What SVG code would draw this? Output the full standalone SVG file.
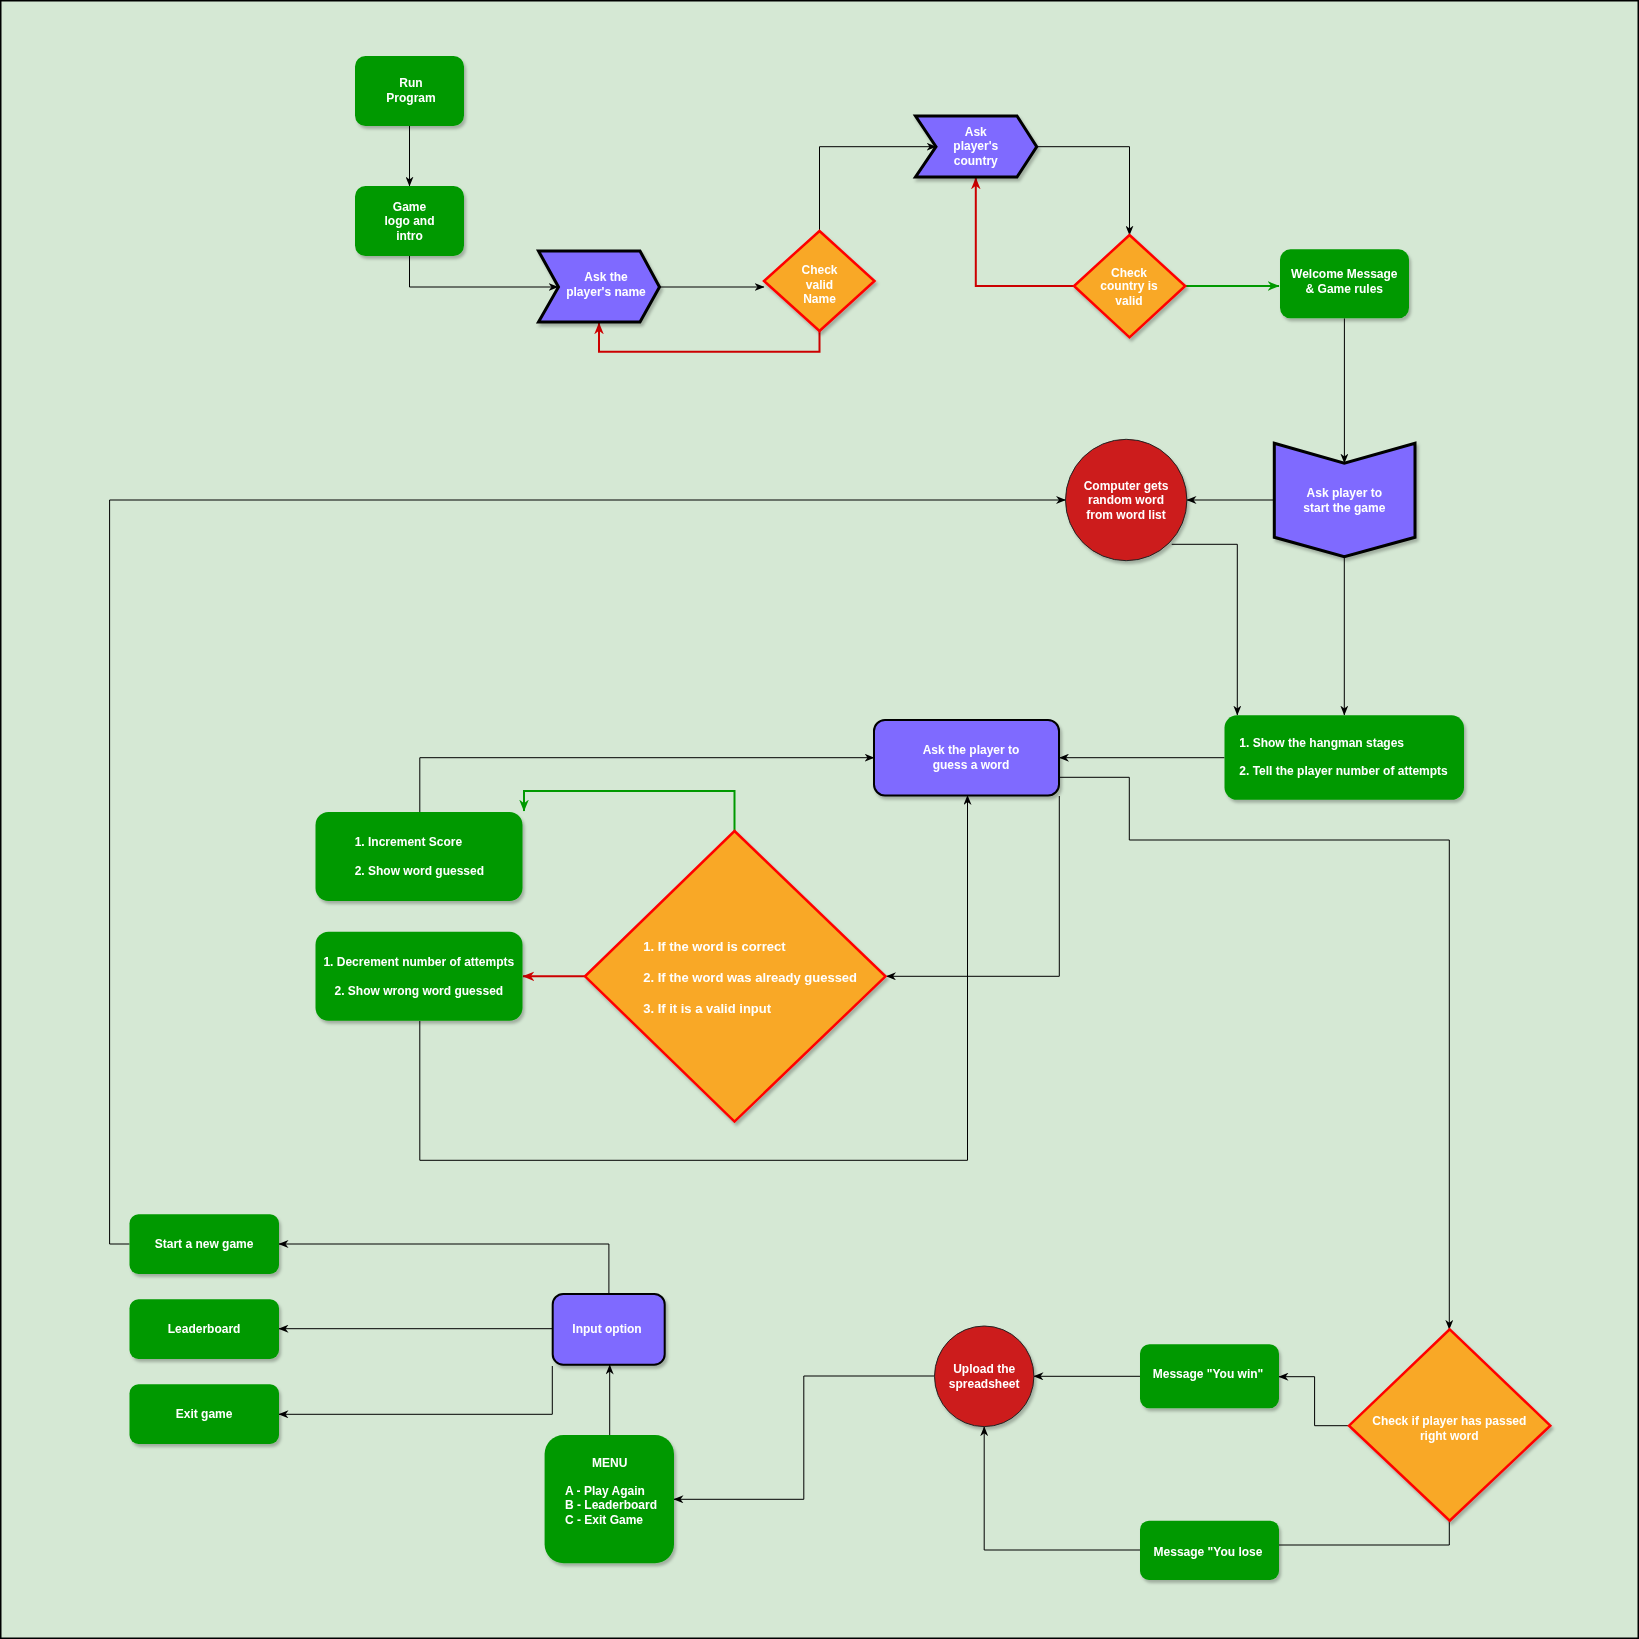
<svg xmlns="http://www.w3.org/2000/svg" width="1639" height="1639" viewBox="0 0 1639 1639">
<defs>
<style>
.bg{fill:#d5e8d4;stroke:#000;stroke-width:1.5}
.g{fill:#009900;stroke:none}
.p{fill:#7f6bff;stroke:#000;stroke-width:3;stroke-linejoin:miter}
.pb{fill:#7f6bff;stroke:#000;stroke-width:2}
.o{fill:#f9a825;stroke:#ff0000;stroke-width:2.5}
.c{fill:#cc1a1a;stroke:#222;stroke-width:1}
.t{font-family:"Liberation Sans",Arial,sans-serif;font-weight:bold;font-size:12px;fill:#fff}
.big{font-size:13px}
.m{text-anchor:middle}
.k{fill:none;stroke:#000;stroke-width:1}
.r{fill:none;stroke:#cc0000;stroke-width:2}
.gr{fill:none;stroke:#009900;stroke-width:2}
</style>
<filter id="sh" x="-10%" y="-10%" width="130%" height="130%">
<feDropShadow dx="2" dy="3" stdDeviation="1.5" flood-color="#000" flood-opacity="0.25"/>
</filter>
<marker id="a" viewBox="0 0 10 8" refX="9.5" refY="4" markerWidth="10" markerHeight="8" markerUnits="userSpaceOnUse" orient="auto">
<path d="M0,0 L10,4 L0,8 L3,4 Z" fill="#000"/>
</marker>
<marker id="ar" viewBox="0 0 10 8" refX="9.5" refY="4" markerWidth="12" markerHeight="10" markerUnits="userSpaceOnUse" orient="auto">
<path d="M0,0 L10,4 L0,8 L3,4 Z" fill="#cc0000"/>
</marker>
<marker id="ag" viewBox="0 0 10 8" refX="9.5" refY="4" markerWidth="12" markerHeight="10" markerUnits="userSpaceOnUse" orient="auto">
<path d="M0,0 L10,4 L0,8 L3,4 Z" fill="#009900"/>
</marker>
</defs>
<rect class="bg" x="0.75" y="0.75" width="1637.5" height="1637.5"/>

<g id="connectors">
<path class="k" d="M409.5,126 V186" marker-end="url(#a)"/>
<path class="k" d="M409.5,256 V287 H558" marker-end="url(#a)"/>
<path class="k" d="M660,287 H764" marker-end="url(#a)"/>
<path class="r" d="M819.5,331 V351.7 H599 V323" marker-end="url(#ar)"/>
<path class="k" d="M819.5,231 V146.7 H936" marker-end="url(#a)"/>
<path class="k" d="M1037,146.7 H1129.5 V235" marker-end="url(#a)"/>
<path class="r" d="M1074,286 H975.8 V178" marker-end="url(#ar)"/>
<path class="gr" d="M1185,286 H1279" marker-end="url(#ag)"/>
<path class="k" d="M1344.4,318.3 V463" marker-end="url(#a)"/>
<path class="k" d="M1274,500 H1187" marker-end="url(#a)"/>
<path class="k" d="M1171.7,544.3 H1237.3 V715" marker-end="url(#a)"/>
<path class="k" d="M1344.3,557 V715" marker-end="url(#a)"/>
<path class="k" d="M1224.5,757.7 H1059.5" marker-end="url(#a)"/>
<path class="k" d="M1059,777.3 H1129.3 V840 H1449.3 V1329.3" marker-end="url(#a)"/>
<path class="k" d="M1059.3,796 V976.3 H886.5" marker-end="url(#a)"/>
<path class="gr" d="M734.5,831 V791 H524 V811" marker-end="url(#ag)"/>
<path class="r" d="M585,976.3 H523" marker-end="url(#ar)"/>
<path class="k" d="M419.8,812 V757.7 H874" marker-end="url(#a)"/>
<path class="k" d="M419.8,1021 V1160.3 H967.5 V795.5" marker-end="url(#a)"/>
<path class="k" d="M1349,1425.7 H1314.6 V1376.7 H1279" marker-end="url(#a)"/>
<path class="k" d="M1449.3,1520.7 V1545 H1279"/>
<path class="k" d="M1140,1376.3 H1034" marker-end="url(#a)"/>
<path class="k" d="M1140,1550 H984.2 V1426.7" marker-end="url(#a)"/>
<path class="k" d="M934.5,1376 H803.8 V1499.3 H674" marker-end="url(#a)"/>
<path class="k" d="M609.7,1435 V1365" marker-end="url(#a)"/>
<path class="k" d="M608.9,1294 V1244 H279" marker-end="url(#a)"/>
<path class="k" d="M552.7,1328.7 H279" marker-end="url(#a)"/>
<path class="k" d="M552.3,1366 V1414.3 H279" marker-end="url(#a)"/>
<path class="k" d="M129.5,1244 H109.6 V500 H1065.5" marker-end="url(#a)"/>
</g>

<g id="run-program" filter="url(#sh)">
<rect class="g" x="355" y="56" width="109" height="70" rx="10.5"/>
<text class="t m" x="411" y="87">Run</text>
<text class="t m" x="411" y="102">Program</text>
</g>
<g id="game-logo" filter="url(#sh)">
<rect class="g" x="355" y="186" width="109" height="70" rx="10.5"/>
<text class="t m" x="409.5" y="211">Game</text>
<text class="t m" x="409.5" y="225.3">logo and</text>
<text class="t m" x="409.5" y="240">intro</text>
</g>
<g id="ask-name" filter="url(#sh)">
<polygon class="p" points="538.5,251 640,251 659.5,287 640,322 538.5,322 558.5,287"/>
<text class="t m" x="606" y="281">Ask the</text>
<text class="t m" x="606" y="296">player's name</text>
</g>
<g id="check-name" filter="url(#sh)">
<polygon class="o" points="819.5,231 874.5,281 819.5,331 764,281"/>
<text class="t m" x="819.5" y="274.3">Check</text>
<text class="t m" x="819.5" y="288.6">valid</text>
<text class="t m" x="819.5" y="303">Name</text>
</g>
<g id="ask-country" filter="url(#sh)">
<polygon class="p" points="915.5,116 1017,116 1036.7,146.7 1017,177 915.5,177 936,146.7"/>
<text class="t m" x="975.8" y="136">Ask</text>
<text class="t m" x="975.8" y="150.3">player's</text>
<text class="t m" x="975.8" y="165">country</text>
</g>
<g id="check-country" filter="url(#sh)">
<polygon class="o" points="1129.5,235 1185.2,286 1129.5,337.3 1074,286"/>
<text class="t m" x="1129" y="276.6">Check</text>
<text class="t m" x="1129" y="290.3">country is</text>
<text class="t m" x="1129" y="305">valid</text>
</g>
<g id="welcome" filter="url(#sh)">
<rect class="g" x="1280" y="249.3" width="129" height="69" rx="10.5"/>
<text class="t m" x="1344.3" y="278.3">Welcome Message</text>
<text class="t m" x="1344.3" y="293.3">&amp; Game rules</text>
</g>
<g id="ask-start" filter="url(#sh)">
<polygon class="p" points="1274.3,443.3 1344.3,463.3 1415,443.3 1415,537.3 1344.3,556.7 1274.3,537.3"/>
<text class="t m" x="1344.3" y="497">Ask player to</text>
<text class="t m" x="1344.3" y="512">start the game</text>
</g>
<g id="random-word" filter="url(#sh)">
<circle class="c" cx="1126.2" cy="500" r="60.7"/>
<text class="t m" x="1126" y="490">Computer gets</text>
<text class="t m" x="1126" y="504.3">random word</text>
<text class="t m" x="1126" y="519">from word list</text>
</g>
<g id="hangman" filter="url(#sh)">
<rect class="g" x="1224.5" y="715.3" width="239.5" height="84.5" rx="12.5"/>
<text class="t" x="1239.3" y="746.6">1. Show the hangman stages</text>
<text class="t" x="1239.3" y="775.3">2. Tell the player number of attempts</text>
</g>
<g id="ask-guess" filter="url(#sh)">
<rect class="pb" x="874" y="720" width="185" height="75.5" rx="11"/>
<text class="t m" x="971" y="754.3">Ask the player to</text>
<text class="t m" x="971" y="768.6">guess a word</text>
</g>
<g id="increment" filter="url(#sh)">
<rect class="g" x="315.5" y="812" width="207" height="89" rx="13"/>
<text class="t" x="354.7" y="846">1. Increment Score</text>
<text class="t" x="354.7" y="875">2. Show word guessed</text>
</g>
<g id="decrement" filter="url(#sh)">
<rect class="g" x="315.5" y="931.7" width="207" height="89" rx="13"/>
<text class="t m" x="418.8" y="966">1. Decrement number of attempts</text>
<text class="t m" x="418.8" y="995">2. Show wrong word guessed</text>
</g>
<g id="check-word" filter="url(#sh)">
<polygon class="o" points="734.5,831 885.5,976.3 734.5,1121.6 585,976.3" stroke-width="2"/>
<text class="t big" x="643.2" y="951.3">1. If the word is correct</text>
<text class="t big" x="643.2" y="982.3">2. If the word was already guessed</text>
<text class="t big" x="643.2" y="1013.3">3. If it is a valid input</text>
</g>
<g id="start-new" filter="url(#sh)">
<rect class="g" x="129.5" y="1214.3" width="149.5" height="59.7" rx="9"/>
<text class="t m" x="204.1" y="1248.3">Start a new game</text>
</g>
<g id="leaderboard" filter="url(#sh)">
<rect class="g" x="129.5" y="1299.3" width="149.5" height="59.7" rx="9"/>
<text class="t m" x="204.1" y="1333">Leaderboard</text>
</g>
<g id="exit-game" filter="url(#sh)">
<rect class="g" x="129.5" y="1384.3" width="149.5" height="59.7" rx="9"/>
<text class="t m" x="204.1" y="1418.3">Exit game</text>
</g>
<g id="input-option" filter="url(#sh)">
<rect class="pb" x="552.7" y="1294" width="112" height="70.7" rx="10.5"/>
<text class="t m" x="607" y="1333">Input option</text>
</g>
<g id="menu" filter="url(#sh)">
<rect class="g" x="544.6" y="1435" width="129.4" height="128.3" rx="19"/>
<text class="t m" x="609.7" y="1467">MENU</text>
<text class="t" x="565" y="1495.3">A - Play Again</text>
<text class="t" x="565" y="1509.3">B - Leaderboard</text>
<text class="t" x="565" y="1523.6">C - Exit Game</text>
</g>
<g id="upload" filter="url(#sh)">
<ellipse class="c" cx="984.2" cy="1376.3" rx="49.7" ry="50.3"/>
<text class="t m" x="984.2" y="1373.3">Upload the</text>
<text class="t m" x="984.2" y="1388.3">spreadsheet</text>
</g>
<g id="you-win" filter="url(#sh)">
<rect class="g" x="1140" y="1344.3" width="139" height="64" rx="9.5"/>
<text class="t m" x="1208" y="1378.3">Message "You win"</text>
</g>
<g id="you-lose" filter="url(#sh)">
<rect class="g" x="1140" y="1520.7" width="139" height="59.3" rx="9"/>
<text class="t m" x="1208" y="1556">Message "You lose</text>
</g>
<g id="check-passed" filter="url(#sh)">
<polygon class="o" points="1449.7,1329.3 1550.3,1425.7 1449.7,1520.7 1349,1425.7"/>
<text class="t m" x="1449.3" y="1425.3">Check if player has passed</text>
<text class="t m" x="1449.3" y="1440.3">right word</text>
</g>
</svg>
